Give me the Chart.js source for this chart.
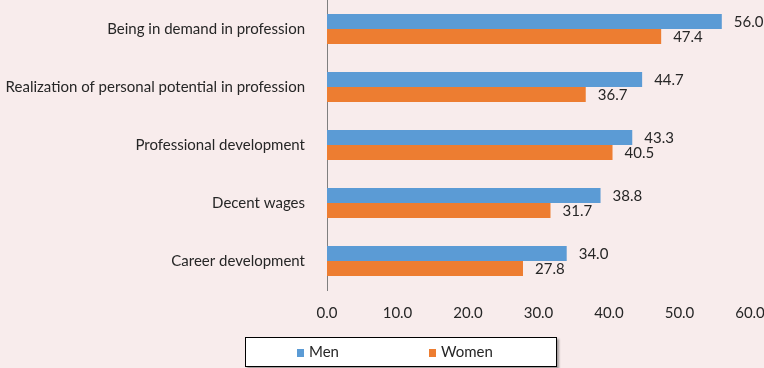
<!DOCTYPE html>
<html>
<head>
<meta charset="utf-8">
<script src="https://cdn.jsdelivr.net/npm/chart.js@4/dist/chart.umd.min.js"></script>
<style>
  html, body { margin: 0; padding: 0; background: #f8ecec; }
  #wrap { position: relative; width: 764px; height: 368px; background: #f8ecec; }
  #c { position: absolute; left: 0; top: 0; }
  #legend {
    position: absolute; left: 245px; top: 337px; width: 310px; height: 28px;
    background: #ffffff; border: 1px solid #000; box-shadow: 2px 2px 2px rgba(0,0,0,0.35);
    font-family: Lato, 'Open Sans', sans-serif; font-size: 15px; color: #262626;
  }
  .item { position: absolute; top: 5px; line-height: 17px; }
  .sw { display: inline-block; width: 7px; height: 8px; margin-right: 5px; vertical-align: 0px; }
</style>
</head>
<body>
<div id="wrap">
  <canvas id="c" width="764" height="368"></canvas>
  <div id="legend"></div>
</div>
<script>
const categories = [
  "Being in demand in profession",
  "Realization of personal potential in profession",
  "Professional development",
  "Decent wages",
  "Career development"
];
const menValues = [56.0, 44.7, 43.3, 38.8, 34.0];
const womenValues = [47.4, 36.7, 40.5, 31.7, 27.8];
const seriesNames = ["Men", "Women"];
const seriesColors = ["#5b9bd5", "#ed7d31"];
const xTicks = [0, 10, 20, 30, 40, 50, 60];

const FONT = { family: "Lato, 'Open Sans', sans-serif", size: 15 };

const valueLabels = {
  id: 'valueLabels',
  afterDatasetsDraw(chart) {
    const ctx = chart.ctx;
    ctx.save();
    ctx.font = `${FONT.size}px ${FONT.family}`;
    ctx.fillStyle = '#262626';
    ctx.textAlign = 'left';
    ctx.textBaseline = 'middle';
    chart.data.datasets.forEach((ds, di) => {
      const meta = chart.getDatasetMeta(di);
      meta.data.forEach((el, i) => {
        ctx.fillText(ds.data[i].toFixed(1), el.x + 12, el.y + 1);
      });
    });
    ctx.restore();
  }
};

const chart = new Chart(document.getElementById('c'), {
  type: 'bar',
  data: {
    labels: categories,
    datasets: [
      { label: seriesNames[0], data: menValues, backgroundColor: seriesColors[0] },
      { label: seriesNames[1], data: womenValues, backgroundColor: seriesColors[1] }
    ]
  },
  options: {
    indexAxis: 'y',
    responsive: false,
    animation: false,
    devicePixelRatio: 1,
    layout: { padding: { left: 0, right: 14, top: 0, bottom: 38 } },
    datasets: { bar: { categoryPercentage: 0.52, barPercentage: 1.0 } },
    plugins: { legend: { display: false }, tooltip: { enabled: false } },
    scales: {
      x: {
        min: 0, max: 60,
        afterBuildTicks(s) { s.ticks = xTicks.map(v => ({ value: v })); },
        afterFit(s) { s.height = 40; s.paddingLeft = 0; s.paddingRight = 0; },
        grid: { display: false, drawTicks: false },
        border: { display: false },
        ticks: { font: FONT, color: '#262626', padding: 14, maxRotation: 0,
                 callback: v => Number(v).toFixed(1) }
      },
      y: {
        afterFit(s) { s.width = 327; s.paddingTop = 0; s.paddingBottom = 0; },
        grid: { display: false, drawTicks: false },
        border: { display: true, color: '#7f7f7f', width: 1 },
        ticks: { font: FONT, color: '#262626', padding: 22, autoSkip: false }
      }
    }
  },
  plugins: [valueLabels]
});

const lg = document.getElementById('legend');
const pos = [51, 183];
chart.data.datasets.forEach((ds, i) => {
  const d = document.createElement('div');
  d.className = 'item';
  d.style.left = pos[i] + 'px';
  const sw = document.createElement('span');
  sw.className = 'sw';
  sw.style.background = ds.backgroundColor;
  d.appendChild(sw);
  d.appendChild(document.createTextNode(ds.label));
  lg.appendChild(d);
});
</script>
</body>
</html>
